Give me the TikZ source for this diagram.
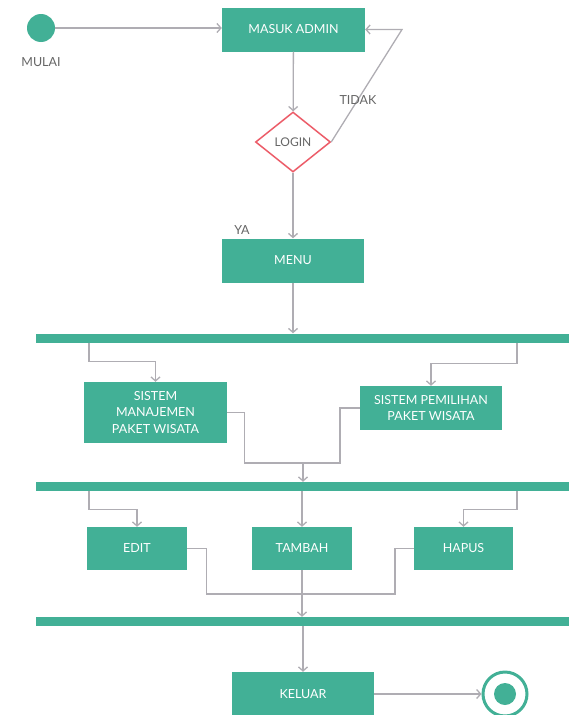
\documentclass[tikz,border=0pt]{standalone}
\usepackage{fontspec}
\setmainfont{Lato}
\usetikzlibrary{arrows.meta,shapes.geometric}
\definecolor{hijau}{RGB}{66,176,150}
\definecolor{garis}{RGB}{175,173,179}
\definecolor{merah}{RGB}{236,92,104}
\tikzset{
	kotak/.style={rectangle,fill=hijau,text=white,align=center,inner sep=0pt,minimum width=142pt,minimum height=44pt,font=\fontsize{12.5}{16.5}\selectfont},
	batang/.style={rectangle,fill=hijau,inner sep=0pt,minimum width=533pt,minimum height=9pt},
	alur/.style={draw=garis,line width=1.3pt,-{Straight Barb[length=4pt,width=9pt]}},
	tulisan/.style={text=black!60,font=\fontsize{12.5}{14}\selectfont}
}
\begin{document}
\begin{tikzpicture}[x=1pt,y=-1pt]
	\useasboundingbox (0,0) rectangle (569,715);
	\node[circle,fill=hijau,minimum size=28pt,inner sep=0pt] (mulai) at (41,28) {};
	\node[tulisan] (lmulai) at (41,62) {MULAI};
	\node[kotak,minimum width=143pt] (admin) at (293.5,29.5) {MASUK ADMIN};
	\node[diamond,draw=merah,line width=1.5pt,fill=white,minimum width=75pt,minimum height=60pt,inner sep=0pt,text=black!60,font=\fontsize{12}{14}\selectfont] (login) at (293,142) {LOGIN};
	\node[kotak] (menu) at (293,260.5) {MENU};
	\node[batang] (bar1) at (302.5,338) {};
	\node[kotak,minimum width=143pt,minimum height=61pt] (manajemen) at (155.5,412.5) {SISTEM\\MANAJEMEN\\PAKET WISATA};
	\node[kotak] (pemilihan) at (431,408) {SISTEM PEMILIHAN\\PAKET WISATA};
	\node[batang] (bar2) at (302.5,486.5) {};
	\node[kotak,minimum width=100pt,minimum height=43pt] (edit) at (137,548.5) {EDIT};
	\node[kotak,minimum width=100pt,minimum height=43pt] (tambah) at (302,548.5) {TAMBAH};
	\node[kotak,minimum width=99pt,minimum height=43pt] (hapus) at (463.5,548.5) {HAPUS};
	\node[batang] (bar3) at (302.5,621.5) {};
	\node[kotak] (keluar) at (303,694) {KELUAR};
	\node[circle,draw=hijau,line width=3pt,fill=white,minimum size=44pt,inner sep=0pt] (selesai) at (505,694) {};
	\node[circle,fill=hijau,minimum size=22pt,inner sep=0pt] (titik) at (selesai) {};
	\coordinate (kiri) at (89,0);
	\coordinate (kanan) at (517,0);
	\coordinate (balik) at (402,29.5);
	\coordinate (gabung1) at (303,463);
	\coordinate (gabung2) at (302,594);
	% alur atas
	\draw[alur] (mulai.east) -- (mulai.east -| admin.west);
	\draw[alur] (admin) -- (login);
	\draw[alur] (login.east) -- (balik) -- (admin.east);
	\node[tulisan] (ltidak) at (358,100) {TIDAK};
	\draw[alur] (login) -- (menu);
	\node[tulisan] (lya) at (242,230) {YA};
	\draw[alur] (menu) -- (bar1.north -| menu.south);
	% cabang pertama
	\draw[alur] (bar1.south -| kiri) -- ++(0,19) -| (manajemen.north);
	\draw[alur] (bar1.south -| kanan) -- ++(0,21) -| (pemilihan.north);
	\draw[draw=garis,line width=1.3pt] (manajemen.east) -- ++(17,0) |- (gabung1) -| (pemilihan.west -| 340,0) -- (pemilihan.west);
	\draw[alur] (gabung1) -- (bar2.north -| gabung1);
	% cabang kedua
	\draw[alur] (bar2.south -| kiri) -- ++(0,18) -| (edit.north);
	\draw[alur] (bar2.south -| tambah.north) -- (tambah.north);
	\draw[alur] (bar2.south -| kanan) -- ++(0,18) -| (hapus.north);
	\draw[draw=garis,line width=1.3pt] (edit.east) -- ++(19,0) |- (gabung2) -| (hapus.west -| 395,0) -- (hapus.west);
	\draw[alur] (tambah.south) -- (bar3.north -| tambah.south);
	% keluar
	\draw[alur] (bar3.south -| keluar.north) -- (keluar.north);
	\draw[alur] (keluar) -- (selesai);
\end{tikzpicture}
\end{document}
